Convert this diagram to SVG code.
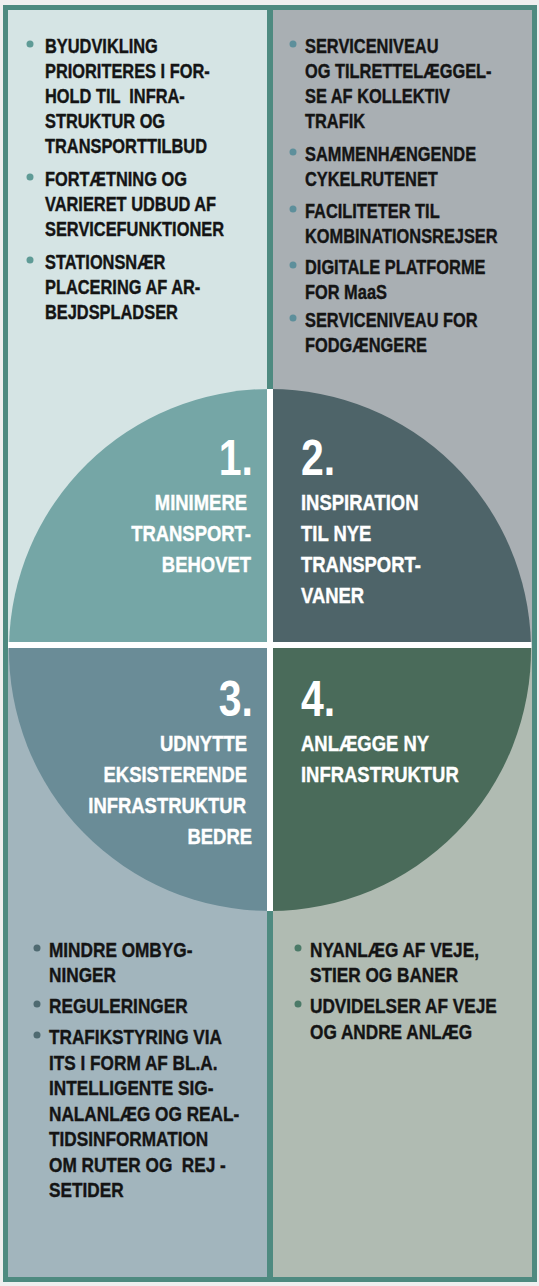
<svg xmlns="http://www.w3.org/2000/svg" width="539" height="1286" viewBox="0 0 539 1286">
<style>
.t{font-family:"Liberation Sans",Arial,sans-serif;font-weight:bold;fill:#141414;stroke:#141414;stroke-width:0.4px;}
.s20{font-size:20px;}
.s21{font-size:21px;}
.c{font-family:"Liberation Sans",Arial,sans-serif;font-weight:bold;fill:#ffffff;stroke:#ffffff;stroke-width:0.4px;font-size:22.5px;}
.n{font-family:"Liberation Sans",Arial,sans-serif;font-weight:bold;fill:#ffffff;font-size:50px;}
.e{text-anchor:end;}
</style>
<rect x="0" y="0" width="539" height="1286" fill="#efefef"/>
<g id="panel-tl">
<rect x="8" y="10" width="262" height="635" fill="#d5e4e4"/>
<g fill="#5f9b96"><circle cx="30" cy="44" r="3.5"/><circle cx="30" cy="177" r="3.5"/><circle cx="30" cy="260" r="3.5"/></g>
<text class="t s20" transform="translate(45,53) scale(0.82,1)">BYUDVIKLING</text>
<text class="t s20" transform="translate(45,78) scale(0.82,1)">PRIORITERES I FOR-</text>
<text class="t s20" transform="translate(45,103) scale(0.82,1)" xml:space="preserve">HOLD TIL  INFRA-</text>
<text class="t s20" transform="translate(45,128) scale(0.82,1)">STRUKTUR OG</text>
<text class="t s20" transform="translate(45,153) scale(0.82,1)">TRANSPORTTILBUD</text>
<text class="t s20" transform="translate(45,186) scale(0.82,1)">FORTÆTNING OG</text>
<text class="t s20" transform="translate(45,211) scale(0.82,1)">VARIERET UDBUD AF</text>
<text class="t s20" transform="translate(45,236) scale(0.82,1)">SERVICEFUNKTIONER</text>
<text class="t s20" transform="translate(45,269) scale(0.82,1)">STATIONSNÆR</text>
<text class="t s20" transform="translate(45,294) scale(0.82,1)">PLACERING AF AR-</text>
<text class="t s20" transform="translate(45,319) scale(0.82,1)">BEJDSPLADSER</text>
</g>
<g id="panel-tr">
<rect x="270" y="10" width="262" height="635" fill="#a9afb3"/>
<g fill="#5d8f9b"><circle cx="293" cy="44" r="3.5"/><circle cx="293" cy="152" r="3.5"/><circle cx="293" cy="209" r="3.5"/><circle cx="293" cy="265" r="3.5"/><circle cx="293" cy="318" r="3.5"/></g>
<text class="t s20" transform="translate(305,53) scale(0.82,1)">SERVICENIVEAU</text>
<text class="t s20" transform="translate(305,78) scale(0.82,1)">OG TILRETTELÆGGEL-</text>
<text class="t s20" transform="translate(305,103) scale(0.82,1)">SE AF KOLLEKTIV</text>
<text class="t s20" transform="translate(305,128) scale(0.82,1)">TRAFIK</text>
<text class="t s20" transform="translate(305,161) scale(0.82,1)">SAMMENHÆNGENDE</text>
<text class="t s20" transform="translate(305,186) scale(0.82,1)">CYKELRUTENET</text>
<text class="t s20" transform="translate(305,218) scale(0.82,1)">FACILITETER TIL</text>
<text class="t s20" transform="translate(305,243) scale(0.82,1)">KOMBINATIONSREJSER</text>
<text class="t s20" transform="translate(305,274) scale(0.82,1)">DIGITALE PLATFORME</text>
<text class="t s20" transform="translate(305,299) scale(0.82,1)">FOR MaaS</text>
<text class="t s20" transform="translate(305,327) scale(0.82,1)">SERVICENIVEAU FOR</text>
<text class="t s20" transform="translate(305,352) scale(0.82,1)">FODGÆNGERE</text>
</g>
<g id="panel-bl">
<rect x="8" y="645" width="262" height="633" fill="#a2b5bd"/>
<g fill="#4f6a71"><circle cx="37" cy="948" r="3.5"/><circle cx="37" cy="1004" r="3.5"/><circle cx="37" cy="1035" r="3.5"/></g>
<text class="t s21" transform="translate(49,957) scale(0.82,1)">MINDRE OMBYG-</text>
<text class="t s21" transform="translate(49,982) scale(0.82,1)">NINGER</text>
<text class="t s21" transform="translate(49,1013) scale(0.82,1)">REGULERINGER</text>
<text class="t s21" transform="translate(49,1044) scale(0.82,1)">TRAFIKSTYRING VIA</text>
<text class="t s21" transform="translate(49,1069.5) scale(0.82,1)">ITS I FORM AF BL.A.</text>
<text class="t s21" transform="translate(49,1095) scale(0.82,1)">INTELLIGENTE SIG-</text>
<text class="t s21" transform="translate(49,1120.5) scale(0.82,1)">NALANLÆG OG REAL-</text>
<text class="t s21" transform="translate(49,1146) scale(0.82,1)">TIDSINFORMATION</text>
<text class="t s21" transform="translate(49,1171.5) scale(0.82,1)" xml:space="preserve">OM RUTER OG  REJ -</text>
<text class="t s21" transform="translate(49,1197) scale(0.82,1)">SETIDER</text>
</g>
<g id="panel-br">
<rect x="270" y="645" width="262" height="633" fill="#b0bbb2"/>
<g fill="#4b7a68"><circle cx="298" cy="948" r="3.5"/><circle cx="298" cy="1004" r="3.5"/></g>
<text class="t s21" transform="translate(310,957) scale(0.82,1)">NYANLÆG AF VEJE,</text>
<text class="t s21" transform="translate(310,982) scale(0.82,1)">STIER OG BANER</text>
<text class="t s21" transform="translate(310,1013) scale(0.82,1)">UDVIDELSER AF VEJE</text>
<text class="t s21" transform="translate(310,1039) scale(0.82,1)">OG ANDRE ANLÆG</text>
</g>
<g id="connectors">
<rect x="267" y="10" width="6" height="1268" fill="#4e8a80"/>
<rect x="5.5" y="7.5" width="529" height="1272" fill="none" stroke="#4e8a80" stroke-width="5"/>
</g>
<g id="q1">
<path d="M270,645 L9.05,645 A261,261 0 0 1 270,389 Z" fill="#75a6a6"/>
<text class="n e" transform="translate(253,475) scale(0.82,1)">1.</text>
<text class="c e" transform="translate(247,510) scale(0.82,1)">MINIMERE</text>
<text class="c e" transform="translate(251,541) scale(0.82,1)">TRANSPORT-</text>
<text class="c e" transform="translate(251,572) scale(0.82,1)">BEHOVET</text>
</g>
<g id="q2">
<path d="M270,645 L270,389 A261,261 0 0 1 530.95,645 Z" fill="#4e6469"/>
<text class="n" transform="translate(301,475) scale(0.82,1)">2.</text>
<text class="c" transform="translate(301,510) scale(0.82,1)">INSPIRATION</text>
<text class="c" transform="translate(301,541) scale(0.82,1)">TIL NYE</text>
<text class="c" transform="translate(301,572) scale(0.82,1)">TRANSPORT-</text>
<text class="c" transform="translate(301,603) scale(0.82,1)">VANER</text>
</g>
<g id="q3">
<path d="M270,645 L270,911 A261,261 0 0 1 9.05,645 Z" fill="#6a8c97"/>
<text class="n e" transform="translate(253,716) scale(0.82,1)">3.</text>
<text class="c e" transform="translate(247,751) scale(0.82,1)">UDNYTTE</text>
<text class="c e" transform="translate(247,782) scale(0.82,1)">EKSISTERENDE</text>
<text class="c e" transform="translate(246,813) scale(0.82,1)">INFRASTRUKTUR</text>
<text class="c e" transform="translate(252,844) scale(0.82,1)">BEDRE</text>
</g>
<g id="q4">
<path d="M270,645 L530.95,645 A261,261 0 0 1 270,911 Z" fill="#4a6b5a"/>
<text class="n" transform="translate(301,716) scale(0.82,1)">4.</text>
<text class="c" transform="translate(301,751) scale(0.82,1)">ANLÆGGE NY</text>
<text class="c" transform="translate(301,782) scale(0.82,1)">INFRASTRUKTUR</text>
</g>
<g id="cross" fill="#ffffff">
<rect x="267" y="389" width="6" height="522"/>
<rect x="8" y="642" width="523.5" height="6"/>
</g>
</svg>
